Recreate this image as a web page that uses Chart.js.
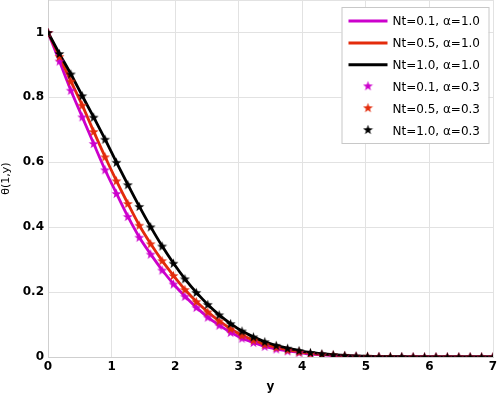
<!DOCTYPE html>
<html lang="en">
<head>
  <meta charset="UTF-8" />
  <title>theta(1,y) profiles</title>
  <style>
    body { margin: 0; background: #ffffff; }
    .chart-box { width: 498px; height: 394px; position: relative; }
  </style>
</head>
<body>
  <div class="chart-box">
    <canvas id="thetaChart" width="498" height="394"></canvas>
  </div>

  <script src="https://cdn.jsdelivr.net/npm/chart.js"></script>
  <script>
    // --- data ---
    const yPos = [0, 0.179, 0.359, 0.538, 0.718, 0.897, 1.077, 1.256, 1.436, 1.615,
                  1.795, 1.974, 2.154, 2.333, 2.513, 2.692, 2.872, 3.051, 3.231, 3.410,
                  3.590, 3.769, 3.949, 4.128, 4.308, 4.487, 4.667, 4.846, 5.026, 5.205,
                  5.385, 5.564, 5.744, 5.923, 6.103, 6.282, 6.462, 6.641, 6.821, 7.000];

    // alpha = 1.0 (solid lines)
    const thetaNt01 = [1.000, 0.912, 0.822, 0.740, 0.658, 0.577, 0.504, 0.433, 0.369, 0.317,
                       0.268, 0.225, 0.187, 0.153, 0.123, 0.098, 0.076, 0.058, 0.045, 0.033,
                       0.025, 0.019, 0.014, 0.009, 0.007, 0.004, 0.003, 0.002, 0.001, 0.001,
                       0, 0, 0, 0, 0, 0, 0, 0, 0, 0];
    const thetaNt05 = [1.000, 0.926, 0.850, 0.776, 0.695, 0.617, 0.543, 0.473, 0.406, 0.349,
                       0.297, 0.251, 0.208, 0.171, 0.139, 0.111, 0.087, 0.067, 0.052, 0.039,
                       0.030, 0.022, 0.016, 0.011, 0.008, 0.006, 0.004, 0.002, 0.002, 0.001,
                       0.001, 0, 0, 0, 0, 0, 0, 0, 0, 0];
    const thetaNt10 = [1.000, 0.935, 0.872, 0.805, 0.739, 0.671, 0.600, 0.531, 0.464, 0.401,
                       0.342, 0.289, 0.241, 0.199, 0.162, 0.130, 0.103, 0.080, 0.062, 0.047,
                       0.036, 0.027, 0.020, 0.014, 0.010, 0.007, 0.005, 0.003, 0.002, 0.001,
                       0.001, 0.001, 0, 0, 0, 0, 0, 0, 0, 0];

    // alpha = 0.3 (star markers) - sit right on top of the lines
    const starNt01 = [1.000, 0.912, 0.822, 0.740, 0.658, 0.577, 0.504, 0.433, 0.369, 0.317,
                      0.268, 0.225, 0.187, 0.153, 0.123, 0.098, 0.076, 0.058, 0.045, 0.033,
                      0.025, 0.019, 0.014, 0.009, 0.007, 0.004, 0.003, 0.002, 0.001, 0.001,
                      0, 0, 0, 0, 0, 0, 0, 0, 0, 0];
    const starNt05 = [1.000, 0.926, 0.850, 0.776, 0.695, 0.617, 0.543, 0.473, 0.406, 0.349,
                      0.297, 0.251, 0.208, 0.171, 0.139, 0.111, 0.087, 0.067, 0.052, 0.039,
                      0.030, 0.022, 0.016, 0.011, 0.008, 0.006, 0.004, 0.002, 0.002, 0.001,
                      0.001, 0, 0, 0, 0, 0, 0, 0, 0, 0];
    const starNt10 = [1.000, 0.935, 0.872, 0.805, 0.739, 0.671, 0.600, 0.531, 0.464, 0.401,
                      0.342, 0.289, 0.241, 0.199, 0.162, 0.130, 0.103, 0.080, 0.062, 0.047,
                      0.036, 0.027, 0.020, 0.014, 0.010, 0.007, 0.005, 0.003, 0.002, 0.001,
                      0.001, 0.001, 0, 0, 0, 0, 0, 0, 0, 0];

    const lineLabels = ['Nt=0.1, \u03b1=1.0', 'Nt=0.5, \u03b1=1.0', 'Nt=1.0, \u03b1=1.0'];
    const starLabels = ['Nt=0.1, \u03b1=0.3', 'Nt=0.5, \u03b1=0.3', 'Nt=1.0, \u03b1=0.3'];
    const xTickLabels = ['0', '1', '2', '3', '4', '5', '6', '7'];
    const yTickLabels = ['0', '0.2', '0.4', '0.6', '0.8', '1'];

    const MAGENTA = '#cc00cc';
    const RED = '#e32b0b';
    const BLACK = '#000000';

    // filled five point star used as point style
    function makeStar(color) {
      const c = document.createElement('canvas');
      c.width = 11; c.height = 11;
      const g = c.getContext('2d');
      g.fillStyle = color;
      g.beginPath();
      for (let k = 0; k < 10; k++) {
        const r = k % 2 ? 2.1 : 5.2;
        const a = -Math.PI / 2 + k * Math.PI / 5;
        const px = 5.5 + r * Math.cos(a);
        const py = 6 + r * Math.sin(a);
        if (k === 0) g.moveTo(px, py); else g.lineTo(px, py);
      }
      g.closePath();
      g.fill();
      return c;
    }

    const toPoints = vals => vals.map((v, i) => ({ x: yPos[i], y: v }));

    function lineSet(label, vals, color, order) {
      return {
        label: label, data: toPoints(vals), borderColor: color, backgroundColor: color,
        borderWidth: 2.8, pointRadius: 0, tension: 0.25, cubicInterpolationMode: 'monotone',
        fill: false, order: order, kind: 'line'
      };
    }
    function starSet(label, vals, color, order) {
      return {
        label: label, data: toPoints(vals), borderColor: color, backgroundColor: color,
        showLine: false, pointStyle: makeStar(color), pointRadius: 5, order: order,
        kind: 'star'
      };
    }

    // legend box drawn inside the plot, top right
    const boxLegend = {
      id: 'boxLegend',
      afterDraw(chart) {
        const ctx = chart.ctx;
        const area = chart.chartArea;
        const w = 147, h = 136;
        const x0 = area.right - 4.5 - w;
        const y0 = area.top + 7;
        ctx.save();
        ctx.fillStyle = '#ffffff';
        ctx.fillRect(x0, y0, w, h);
        ctx.strokeStyle = '#c8c8c8';
        ctx.lineWidth = 1;
        ctx.strokeRect(x0 + 0.5, y0 + 0.5, w, h);
        ctx.font = '12px "DejaVu Sans"';
        ctx.textBaseline = 'middle';
        ctx.fillStyle = '#000000';
        chart.data.datasets.forEach((ds, i) => {
          const cy = y0 + 14 + i * 21.9;
          if (ds.kind === 'line') {
            ctx.strokeStyle = ds.borderColor;
            ctx.lineWidth = 3;
            ctx.beginPath();
            ctx.moveTo(x0 + 7, cy);
            ctx.lineTo(x0 + 46, cy);
            ctx.stroke();
          } else {
            const img = ds.pointStyle;
            ctx.drawImage(img, x0 + 26.5 - img.width / 2, cy - img.height / 2 - 1);
          }
          ctx.fillStyle = '#000000';
          ctx.fillText(ds.label, x0 + 51, cy + 1);
        });
        ctx.restore();
      }
    };

    new Chart(document.getElementById('thetaChart'), {
      type: 'line',
      data: {
        datasets: [
          lineSet(lineLabels[0], thetaNt01, MAGENTA, 5),
          lineSet(lineLabels[1], thetaNt05, RED, 4),
          lineSet(lineLabels[2], thetaNt10, BLACK, 3),
          starSet(starLabels[0], starNt01, MAGENTA, 2),
          starSet(starLabels[1], starNt05, RED, 1),
          starSet(starLabels[2], starNt10, BLACK, 0)
        ]
      },
      options: {
        responsive: false,
        animation: false,
        layout: { autoPadding: false, padding: { left: 0, right: 5, top: 0, bottom: 0 } },
        plugins: {
          legend: { display: false },
          tooltip: { enabled: false }
        },
        scales: {
          x: {
            type: 'linear', min: 0, max: 7,
            ticks: {
              stepSize: 1, padding: 3, color: '#000000', maxRotation: 0,
              font: { family: '"DejaVu Sans"', size: 12, weight: 'bold' },
              callback: v => xTickLabels[v] ?? ''
            },
            grid: { color: '#e2e2e2', drawTicks: false },
            border: { color: '#cfcfcf' },
            title: {
              display: true, text: 'y', color: '#000000', padding: { top: 0, bottom: 0 },
              font: { family: '"DejaVu Sans"', size: 12, weight: 'bold' }
            },
            afterFit: s => { s.height = 37; s.paddingLeft = 0; s.paddingRight = 0; }
          },
          y: {
            min: 0, max: 1.1,
            ticks: {
              stepSize: 0.2, padding: 4, color: '#000000',
              font: { family: '"DejaVu Sans"', size: 12, weight: 'bold' },
              callback: v => {
                const k = Math.round(v / 0.2);
                return Math.abs(v - k * 0.2) < 1e-6 ? (yTickLabels[k] ?? '') : '';
              }
            },
            grid: { color: '#e2e2e2', drawTicks: false },
            border: { color: '#cfcfcf' },
            title: {
              display: true, text: '\u03b8(1,y)', color: '#000000', padding: { top: 0, bottom: 0 },
              font: { family: '"DejaVu Sans"', size: 11 }
            },
            afterFit: s => { s.width = 48; s.paddingTop = 0; s.paddingBottom = 0; }
          }
        }
      },
      plugins: [boxLegend]
    });
  </script>
</body>
</html>
